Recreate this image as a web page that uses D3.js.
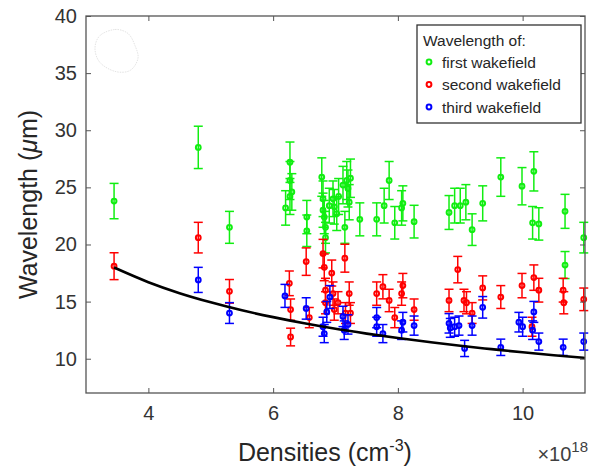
<!DOCTYPE html>
<html>
<head>
<meta charset="utf-8">
<script src="https://cdn.jsdelivr.net/npm/d3@7"></script>
<style>
  body { margin: 0; background: #fff; }
  text { font-family: "Liberation Sans", Arial, sans-serif; }
</style>
</head>
<body>
<div id="chart"></div>
<script>
// wavelength vs plasma density
const firstDensity = [3.45, 4.80, 5.30, 6.20, 6.27, 6.27, 6.27, 6.30, 6.54, 6.54, 6.78, 6.80, 6.80, 6.82, 6.84, 6.84,
  6.90, 6.96, 6.98, 7.02, 7.05, 7.12, 7.15, 7.18, 7.20, 7.22, 7.24, 7.39, 7.66, 7.78, 7.86, 7.95, 8.06, 8.08,
  8.26, 8.82, 8.91, 9.00, 9.09, 9.19, 9.36, 9.65, 9.99, 10.16, 10.18, 10.26, 10.68, 10.68, 10.98];
const firstWave = [23.8, 28.5, 21.5, 23.2, 27.2, 25.6, 24.2, 24.6, 22.4, 21.2, 25.9, 24.0, 23.0, 22.4, 21.5, 20.6,
  23.4, 24.0, 23.3, 22.7, 24.2, 25.2, 21.5, 25.6, 24.9, 23.7, 25.8, 22.2, 22.2, 23.4, 25.6, 21.9, 23.2, 23.6,
  22.0, 22.8, 23.4, 23.4, 23.7, 21.3, 23.6, 25.9, 25.1, 21.9, 26.4, 21.8, 22.9, 18.2, 20.6];

const secondDensity = [3.45, 4.80, 5.30, 6.26, 6.28, 6.28, 6.53, 6.58, 6.80, 6.82, 6.84, 6.84, 6.94, 6.96, 6.98,
  7.04, 7.15, 7.16, 7.22, 7.24, 7.66, 7.76, 7.86, 7.95, 8.06, 8.08, 8.26, 8.82, 8.96, 9.06, 9.10, 9.19, 9.36,
  9.65, 9.99, 10.15, 10.18, 10.26, 10.65, 10.66, 10.98];
const secondWave = [18.1, 20.6, 15.9, 16.6, 14.3, 11.9, 18.5, 13.6, 19.2, 18.0, 16.0, 14.9, 17.5, 15.7, 14.3,
  14.9, 18.8, 14.0, 15.7, 14.0, 15.7, 16.3, 15.1, 13.6, 15.7, 16.4, 14.3, 15.1, 17.8, 15.1, 14.9, 14.0, 16.2,
  15.4, 16.4, 12.8, 17.1, 16.0, 16.0, 14.9, 15.2];

const thirdDensity = [4.80, 5.30, 6.19, 6.53, 6.80, 6.82, 6.86, 6.91, 7.12, 7.14, 7.20, 7.66, 7.66, 7.76, 8.06,
  8.08, 8.26, 8.82, 8.84, 8.91, 8.98, 9.07, 9.19, 9.36, 9.65, 9.94, 10.00, 10.16, 10.18, 10.26, 10.65, 10.98];
const thirdWave = [16.9, 14.0, 15.5, 14.4, 12.8, 12.2, 14.1, 15.4, 13.7, 12.5, 13.0, 13.6, 12.8, 12.2, 12.5,
  13.2, 12.9, 13.1, 12.7, 12.8, 12.9, 10.9, 12.9, 14.5, 11.0, 13.2, 12.8, 12.5, 14.1, 11.5, 11.0, 11.5];

// error bars are about 6.5% of the value
const errFrac = 0.065;

// black theory curve
const fitDensity = [3.45, 4, 4.5, 5, 5.5, 6, 6.5, 7, 7.5, 8, 8.5, 9, 9.5, 10, 10.5, 11];
const fitWave = [17.98, 16.7, 15.74, 14.94, 14.24, 13.64, 13.1, 12.62, 12.2, 11.81, 11.46, 11.13, 10.84, 10.56, 10.31, 10.07];

const xTicks = [4, 6, 8, 10];
const yTicks = [10, 15, 20, 25, 30, 35, 40];
const legendTitle = 'Wavelength of:';
const seriesNames = ['first wakefield', 'second wakefield', 'third wakefield'];
const seriesColors = ['#11ee11', '#ff0000', '#0000ff'];

// faint smudge in the upper left corner
const blobDensity = [3.224, 3.465, 3.673, 3.785, 3.833, 3.705, 3.465, 3.224, 3.144];
const blobWave = [38.29, 38.82, 38.47, 37.42, 36.28, 35.23, 35.15, 35.93, 37.16];

const width = 595, height = 466;
const margin = {top: 16, right: 10, bottom: 73, left: 86};
const plotW = width - margin.left - margin.right;
const plotH = height - margin.top - margin.bottom;

const svg = d3.select('#chart').append('svg')
  .attr('width', width)
  .attr('height', height);

const x = d3.scaleLinear().domain([3, 11]).range([0, plotW]);
const y = d3.scaleLinear().domain([7, 40]).range([plotH, 0]);

const g = svg.append('g').attr('transform', `translate(${margin.left},${margin.top})`);

// smudge
const blob = blobDensity.map((d, i) => [d, blobWave[i]]);
g.append('path')
  .attr('d', d3.line().x(d => x(d[0])).y(d => y(d[1])).curve(d3.curveCardinalClosed)(blob))
  .attr('fill', 'none')
  .attr('stroke', '#dcdcdc')
  .attr('stroke-width', 0.8)
  .attr('stroke-dasharray', '1.5,1');

// series
const series = [
  {xs: firstDensity, ys: firstWave},
  {xs: secondDensity, ys: secondWave},
  {xs: thirdDensity, ys: thirdWave}
];

series.forEach((s, k) => {
  const pts = s.xs.map((d, i) => ({d: d, v: s.ys[i], e: s.ys[i] * errFrac}));
  const grp = g.append('g').attr('stroke', seriesColors[k]).attr('fill', 'none');
  const bars = grp.selectAll('g.bar').data(pts).enter().append('g').attr('class', 'bar');
  bars.append('line')
    .attr('x1', d => x(d.d)).attr('x2', d => x(d.d))
    .attr('y1', d => y(d.v - d.e)).attr('y2', d => y(d.v + d.e))
    .attr('stroke-width', 1.5);
  bars.append('line')
    .attr('x1', d => x(d.d) - 4.5).attr('x2', d => x(d.d) + 4.5)
    .attr('y1', d => y(d.v + d.e)).attr('y2', d => y(d.v + d.e))
    .attr('stroke-width', 1.5);
  bars.append('line')
    .attr('x1', d => x(d.d) - 4.5).attr('x2', d => x(d.d) + 4.5)
    .attr('y1', d => y(d.v - d.e)).attr('y2', d => y(d.v - d.e))
    .attr('stroke-width', 1.5);
  bars.append('circle')
    .attr('cx', d => x(d.d)).attr('cy', d => y(d.v))
    .attr('r', 2.4)
    .attr('stroke-width', 2);
});

// fit curve
const fit = fitDensity.map((d, i) => [d, fitWave[i]]);
g.append('path')
  .attr('d', d3.line().x(d => x(d[0])).y(d => y(d[1])).curve(d3.curveMonotoneX)(fit))
  .attr('fill', 'none')
  .attr('stroke', '#000')
  .attr('stroke-width', 2.6);

// axes box with inward ticks on all sides
const axisColor = '#555';
const tickColor = '#333';
const styleAxis = sel => {
  sel.select('.domain').remove();
  sel.selectAll('.tick line').attr('stroke', axisColor).attr('stroke-width', 1);
  sel.selectAll('.tick text').attr('fill', tickColor).style('font-size', '20px')
    .style('font-family', '"Liberation Sans", Arial, sans-serif');
};

g.append('g').attr('transform', `translate(0,${plotH})`)
  .call(d3.axisBottom(x).tickValues(xTicks).tickSizeInner(-5).tickSizeOuter(0).tickPadding(13))
  .call(styleAxis);
g.append('g')
  .call(d3.axisTop(x).tickValues(xTicks).tickSizeInner(-5).tickSizeOuter(0).tickFormat(''))
  .call(styleAxis);
g.append('g')
  .call(d3.axisLeft(y).tickValues(yTicks).tickSizeInner(-5).tickSizeOuter(0).tickPadding(9))
  .call(styleAxis);
g.append('g').attr('transform', `translate(${plotW},0)`)
  .call(d3.axisRight(y).tickValues(yTicks).tickSizeInner(-5).tickSizeOuter(0).tickFormat(''))
  .call(styleAxis);

g.append('rect')
  .attr('width', plotW).attr('height', plotH)
  .attr('fill', 'none').attr('stroke', axisColor).attr('stroke-width', 1.3);

// axis titles
const yTitle = svg.append('text')
  .attr('transform', `translate(37,${margin.top + plotH / 2}) rotate(-90)`)
  .attr('text-anchor', 'middle')
  .attr('fill', '#262626')
  .style('font-size', '25px');
yTitle.append('tspan').text('Wavelength (');
yTitle.append('tspan').attr('font-style', 'italic').text('\u03bc');
yTitle.append('tspan').text('m)');

const xTitle = svg.append('text')
  .attr('x', margin.left + x(6.83))
  .attr('y', 461)
  .attr('text-anchor', 'middle')
  .attr('fill', '#262626')
  .style('font-size', '25px');
xTitle.append('tspan').text('Densities (cm');
xTitle.append('tspan').attr('dy', -10).style('font-size', '16px').text('-3');
xTitle.append('tspan').attr('dy', 10).text(')');

const expo = svg.append('text')
  .attr('x', 588)
  .attr('y', 461)
  .attr('text-anchor', 'end')
  .attr('fill', '#404040')
  .style('font-size', '20px');
expo.append('tspan').text('\u00d710');
expo.append('tspan').attr('dy', -9).style('font-size', '15px').text('18');

// legend
const lg = svg.append('g').attr('transform', 'translate(417,25)');
lg.append('rect')
  .attr('width', 164).attr('height', 98)
  .attr('fill', '#fff').attr('stroke', '#333').attr('stroke-width', 1.3);
lg.append('text')
  .attr('x', 6).attr('y', 21)
  .attr('fill', '#262626')
  .style('font-size', '15.5px')
  .text(legendTitle);
seriesNames.forEach((name, i) => {
  const cy = 37 + i * 22.5;
  lg.append('circle')
    .attr('cx', 12).attr('cy', cy).attr('r', 2.4)
    .attr('fill', 'none').attr('stroke', seriesColors[i]).attr('stroke-width', 2);
  lg.append('text')
    .attr('x', 25).attr('y', cy + 5.5)
    .attr('fill', '#262626')
    .style('font-size', '15.5px')
    .text(name);
});
</script>
</body>
</html>
